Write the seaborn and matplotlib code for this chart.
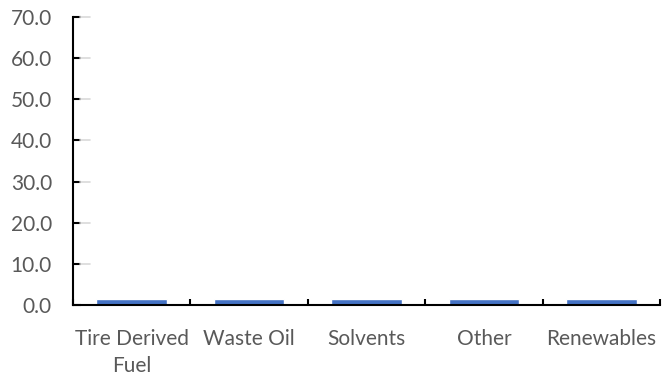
import matplotlib
matplotlib.use('Agg')
import matplotlib.pyplot as plt
import seaborn as sns
import numpy as np
import pandas as pd

categories = ['Tire Derived\nFuel', 'Waste Oil', 'Solvents', 'Other', 'Renewables']
values = [1.4, 1.4, 1.4, 1.4, 1.4]
yticks = [0, 10, 20, 30, 40, 50, 60, 70]

sns.set_style('white', {'xtick.bottom': True, 'ytick.left': True})
plt.rcParams['font.family'] = ['Lato', 'DejaVu Sans']

df = pd.DataFrame({'cat': categories, 'val': values})

fig = plt.figure(figsize=(6.62, 3.77), dpi=100)
ax = fig.add_axes([0.110, 0.191, 0.887, 0.764])
sns.barplot(data=df, x='cat', y='val', color='#4472C4', width=0.6, ax=ax, saturation=1)

ax.set_ylim(0, 70)
ax.set_xlim(-0.5, len(categories) - 0.5)
ax.set_yticks(yticks)
ax.set_yticklabels([f'{v:.1f}' for v in yticks], fontsize=15, color='#595959')
ax.set_xlabel('')
ax.set_ylabel('')
ax.set_xticks(range(len(categories)))
ax.set_xticklabels(categories, fontsize=15, color='#595959', linespacing=1.45)
ax.tick_params(axis='x', which='major', length=0, pad=17)
ax.set_xticks(np.arange(-0.5, len(categories)), minor=True)
ax.tick_params(axis='x', which='minor', length=4, width=1.5, color='black', direction='in')
ax.tick_params(axis='y', length=5.5, width=1.5, color='black', direction='in', pad=15)

# faint grey extension of the y ticks
ax_w = ax.get_position().width * fig.get_figwidth() * fig.dpi
tr = ax.get_yaxis_transform()
for y in yticks:
    ax.plot([7.5 / ax_w, 17 / ax_w], [y, y], color='#d9d9d9', lw=1.2, transform=tr, clip_on=False)

for s in ['top', 'right']:
    ax.spines[s].set_visible(False)
for s in ['left', 'bottom']:
    ax.spines[s].set_color('black')
    ax.spines[s].set_linewidth(1.5)

fig.savefig('out.png', dpi=100)
